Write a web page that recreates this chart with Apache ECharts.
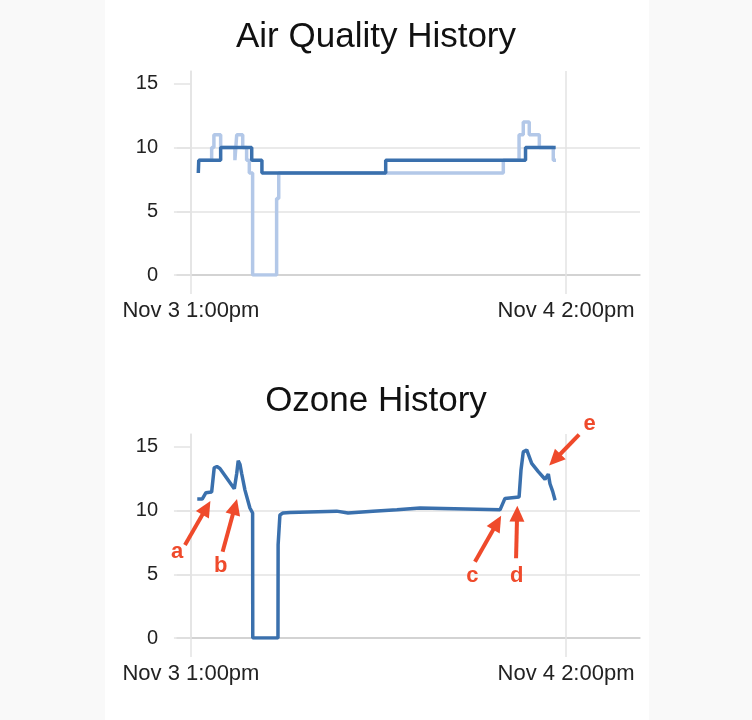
<!DOCTYPE html>
<html><head><meta charset="utf-8">
<script src="https://cdn.jsdelivr.net/npm/echarts@6/dist/echarts.min.js"></script>
<style>
html,body{margin:0;padding:0;background:#f9f9f9;}
#wrap{position:relative;width:752px;height:720px;}
#panel{position:absolute;left:105px;top:0;width:544px;height:720px;background:#fff;}
#chart{position:absolute;left:0;top:0;width:752px;height:720px;}
</style></head><body>
<div id="wrap"><div id="panel"></div><div id="chart"></div></div>
<script>
// hours measured from Nov 3 1:00pm
const xTickHours = [0, 25];
const xTickLabels = ['Nov 3 1:00pm', 'Nov 4 2:00pm'];
const yTicks = [0, 5, 10, 15];

const aqDarkHours = [0.49, 0.52, 1.98, 4.05, 4.73, 12.98, 22.3, 24.31];
const aqDarkValues = [8, 9, 10, 9, 8, 9, 10, 10];

const aqLightHours = [0.52, 1.38, 1.53, 1.98, 2.93, 3.05, 3.45, 3.71, 3.89, 4.11, 5.71, 5.85, 20.82, 21.87, 22.15, 22.55, 23.22, 24.15, 24.33];
const aqLightValues = [9, 10, 11, 10, 9, 11, 10, 9, 8, 0, 6, 8, 9, 11, 12, 11, 10, 9, 9];

const ozHours = [0.42, 0.75, 1.0, 1.38, 1.55, 1.73, 1.93, 2.89, 3.05, 3.15, 3.27, 3.38, 3.6, 3.93, 4.11, 4.12, 5.8, 5.81, 5.93, 6.05, 6.13, 6.6, 6.67, 9.71, 9.75, 10.47, 10.52, 12.13, 12.17, 13.73, 13.77, 15.27, 15.31, 20.6, 20.93, 21.87, 22.0, 22.15, 22.38, 22.71, 23.15, 23.6, 23.82, 23.93, 24.11, 24.27];
const ozValues = [10.9, 10.9, 11.4, 11.45, 13.35, 13.45, 13.3, 11.7, 12.9, 13.9, 13.6, 12.9, 11.6, 10.2, 9.8, 0, 0, 7.3, 9.65, 9.7, 9.8, 9.85, 9.95, 9.95, 9.8, 9.8, 9.95, 9.95, 10.05, 10.05, 10.2, 10.2, 10.05, 10.05, 10.95, 11.05, 13.2, 14.6, 14.75, 13.7, 13.05, 12.45, 12.85, 12.1, 11.5, 10.8];

const arrowLabels = ['a', 'b', 'c', 'd', 'e'];
const arrowTailHours = [-0.4, 2.11, 18.93, 21.67, 25.87];
const arrowTailValues = [7.29, 6.77, 5.98, 6.25, 15.95];
const arrowTipHours = [1.03, 2.93, 20.41, 21.74, 24.25];
const arrowTipValues = [10.21, 10.29, 9.04, 9.75, 13.98];
const labelHours = [-0.92, 1.99, 18.75, 21.71];
const labelValues = [6.75, 5.68, 4.85, 4.85];

const FONT = 'Liberation Sans';
const RED = '#ef4a2b';
const DARK = '#3a70ad';
const LIGHT = '#b3c8e8';
const GRIDC = '#e3e3e3';

const pairs = (xs, ys) => xs.map((x, i) => [x, ys[i]]);

function xAxisFor(gi) {
  return {
    type: 'value', gridIndex: gi, min: -0.93, max: 29.93,
    axisLine: { show: true, lineStyle: { color: '#cccccc', width: 1.5 } },
    axisTick: { show: true, customValues: xTickHours, length: 19, lineStyle: { color: GRIDC, width: 1.5 } },
    axisLabel: {
      customValues: xTickHours, margin: 25, fontSize: 22, color: '#222', fontFamily: FONT,
      formatter: v => { const i = xTickHours.indexOf(v); return i >= 0 ? xTickLabels[i] : ''; }
    },
    splitLine: { show: false }
  };
}
function yAxisFor(gi) {
  return {
    type: 'value', gridIndex: gi, min: 0, max: 16, interval: 5,
    axisLine: { show: true, lineStyle: { color: GRIDC, width: 1.5 } },
    axisTick: { show: true, customValues: yTicks, length: 17, lineStyle: { color: GRIDC, width: 1.5 } },
    axisLabel: { customValues: yTicks, margin: 19, fontSize: 20, color: '#222', fontFamily: FONT },
    splitLine: { show: true, showMaxLine: false, lineStyle: { color: GRIDC, width: 1.5 } }
  };
}
const vLines = xTickHours.map(h => ({ xAxis: h }));

const arrowItems = arrowLabels.map((l, i) => [
  {
    coord: [arrowTailHours[i], arrowTailValues[i]], symbol: 'none',
    lineStyle: { color: RED, width: 4, type: 'solid' },
    label: l === 'e'
      ? { show: true, position: 'start', distance: 15, formatter: l, color: RED, fontSize: 22, fontWeight: 'bold', fontFamily: FONT }
      : { show: false }
  },
  { coord: [arrowTipHours[i], arrowTipValues[i]], symbol: 'triangle', symbolSize: [15, 16] }
]);

const option = {
  animation: false,
  textStyle: { fontFamily: FONT },
  title: [
    { text: 'Air Quality History', left: 'center', top: 15, textStyle: { fontSize: 35, fontWeight: 'normal', color: '#111', fontFamily: FONT } },
    { text: 'Ozone History', left: 'center', top: 379, textStyle: { fontSize: 35, fontWeight: 'normal', color: '#111', fontFamily: FONT } }
  ],
  grid: [
    { left: 177, top: 71, width: 463, height: 204 },
    { left: 177, top: 434, width: 463, height: 204 }
  ],
  xAxis: [xAxisFor(0), xAxisFor(1)],
  yAxis: [yAxisFor(0), yAxisFor(1)],
  series: [
    {
      type: 'line', xAxisIndex: 0, yAxisIndex: 0, step: 'end', showSymbol: false, silent: true,
      data: pairs(aqLightHours, aqLightValues),
      lineStyle: { color: LIGHT, width: 3.5 }, itemStyle: { color: LIGHT }, z: 2,
      markLine: {
        silent: true, symbol: 'none', label: { show: false },
        lineStyle: { color: GRIDC, width: 1.5, type: 'solid' },
        data: vLines
      }
    },
    {
      type: 'line', xAxisIndex: 0, yAxisIndex: 0, step: 'end', showSymbol: false, silent: true,
      data: pairs(aqDarkHours, aqDarkValues),
      lineStyle: { color: DARK, width: 3.5 }, itemStyle: { color: DARK }, z: 3
    },
    {
      type: 'line', xAxisIndex: 1, yAxisIndex: 1, showSymbol: false, silent: true,
      data: pairs(ozHours, ozValues),
      lineStyle: { color: DARK, width: 3.5 }, itemStyle: { color: DARK }, z: 3,
      markLine: {
        silent: true, symbol: 'none', label: { show: false },
        lineStyle: { color: GRIDC, width: 1.5, type: 'solid' },
        data: vLines.concat(arrowItems)
      },
      markPoint: {
        silent: true, symbol: 'circle', symbolSize: 1,
        itemStyle: { color: 'rgba(0,0,0,0)' },
        label: { show: true, position: 'inside', color: RED, fontSize: 22, fontWeight: 'bold', fontFamily: FONT, formatter: '{b}' },
        data: labelHours.map((h, i) => ({ name: arrowLabels[i], coord: [h, labelValues[i]] }))
      }
    }
  ]
};
const chart = echarts.init(document.getElementById('chart'), null, { renderer: 'canvas' });
chart.setOption(option);
</script>
</body></html>
